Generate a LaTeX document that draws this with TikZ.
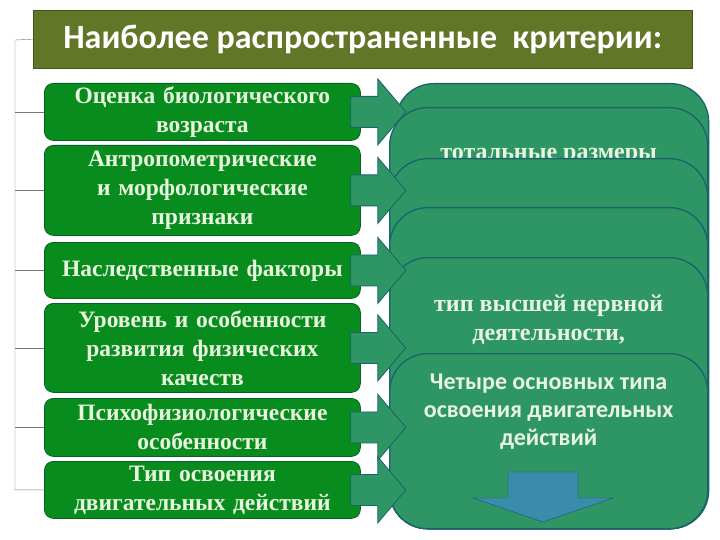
\documentclass[tikz,border=0pt]{standalone}
\usepackage{fontspec}
\setmainfont{Liberation Serif}
\newfontfamily\headfont{Carlito}
\usetikzlibrary{positioning}
\definecolor{titlecolor}{RGB}{98,118,40}
\definecolor{boxgreen}{RGB}{8,140,30}
\definecolor{boxedge}{RGB}{10,95,40}
\definecolor{cardgreen}{RGB}{46,150,100}
\definecolor{cardedge}{RGB}{28,98,108}
\definecolor{textlight}{RGB}{232,246,222}
\definecolor{dropblue}{RGB}{58,140,172}
\definecolor{linegray}{RGB}{105,122,132}

\begin{document}
\begin{tikzpicture}[
    x=1pt, y=-1pt,
    headline/.style={rectangle, draw=titlecolor!70!black, fill=titlecolor, minimum width=659pt, minimum height=58pt, inner sep=0pt, font=\headfont\bfseries\fontsize{34}{38}\selectfont, text=white},
    factor/.style={rectangle, draw=boxedge, thick, fill=boxgreen, rounded corners=9pt, minimum width=316pt, text width=316pt, align=center, inner sep=0pt, font=\bfseries\fontsize{23.5}{29}\selectfont, text=textlight},
    card/.style={rectangle, draw=cardedge, line width=1.3pt, fill=cardgreen, rounded corners=38pt, minimum width=318pt, inner sep=0pt},
    cardnote/.style={align=center, inner sep=0pt, font=\bfseries\fontsize{24}{29}\selectfont, text=textlight},
    cardsans/.style={align=center, inner sep=0pt, font=\headfont\bfseries\fontsize{24}{28}\selectfont, text=textlight},
    pointer/.style={draw=cardedge, thick, fill=cardgreen},
    bracket/.style={draw=linegray, thin}
]

% background
\useasboundingbox (0,0) rectangle (720,540);
\fill[white] (0,0) rectangle (720,540);

% Title
\node[headline, anchor=north west] (title) at (33,10) {Наиболее распространенные~ критерии:};

% Criteria
\node[factor, anchor=north west, minimum height=57pt] (bioage) at (44,83) {Оценка биологического\\возраста};
\node[factor, anchor=north west, minimum height=90pt] (anthro) at (44,145) {Антропометрические\\и морфологические\\признаки};
\node[factor, anchor=north west, minimum height=56pt] (heredity) at (44,242) {Наследственные факторы};
\node[factor, anchor=north west, minimum height=89pt] (physical) at (44,303) {Уровень и особенности\\развития физических\\качеств};
\node[factor, anchor=north west, minimum height=58pt] (psycho) at (44,398) {Психофизиологические\\особенности};
\node[factor, anchor=north west, minimum height=57pt] (motor) at (44,461) {Тип освоения\\двигательных действий};

% Bracket
\coordinate (spine) at (15,40);
\draw[bracket] (title.west) -- (spine) |- (motor.west);
\foreach \n in {bioage,anthro,heredity,physical,psycho}
    \draw[bracket] (\n.west) -- (\n.west -| spine);

% Cards
\node[card, anchor=north west, minimum height=445pt, minimum width=313pt] (card1) at (395,83) {};
\node[card, anchor=north west, minimum height=421pt] (card2) at (389,107) {};
\node[cardnote, anchor=base] (sizes) at ([yshift=-53pt]card2.north) {тотальные размеры};
\node[card, anchor=north west, minimum height=370pt] (card3) at (389,158) {};
\node[card, anchor=north west, minimum height=321pt] (card4) at (389,207) {};
\node[card, anchor=north west, minimum height=271pt] (card5) at (389,257) {};
\node[cardnote, anchor=base] (nervous) at ([yshift=-83pt]card5.north) {тип высшей нервной\\деятельности,};
\node[card, anchor=north west, minimum height=175pt] (card6) at (389,353) {};
\node[cardsans, anchor=base] (fourtypes) at ([yshift=-92pt]card6.north) {Четыре основных типа\\освоения двигательных\\действий};

% Down arrow
\coordinate (drop) at (543,472);
\draw[draw=dropblue!60!black, fill=dropblue] ([xshift=-35pt]drop) -- ++(70,0) -- ++(0,26) -- ++(35,0)
    -- ++(-70,24) -- ++(-70,-24) -- ++(35,0) -- cycle;

% Arrows
\foreach \n in {bioage,anthro,heredity,physical,psycho,motor}
    \draw[pointer] ([xshift=-10pt,yshift=15.5pt]\n.east) -- ++(27,0) -- ++(0,-17.5) -- ++(28,33)
        -- ++(-28,33) -- ++(0,-17.5) -- ++(-27,0) -- cycle;

\end{tikzpicture}
\end{document}
